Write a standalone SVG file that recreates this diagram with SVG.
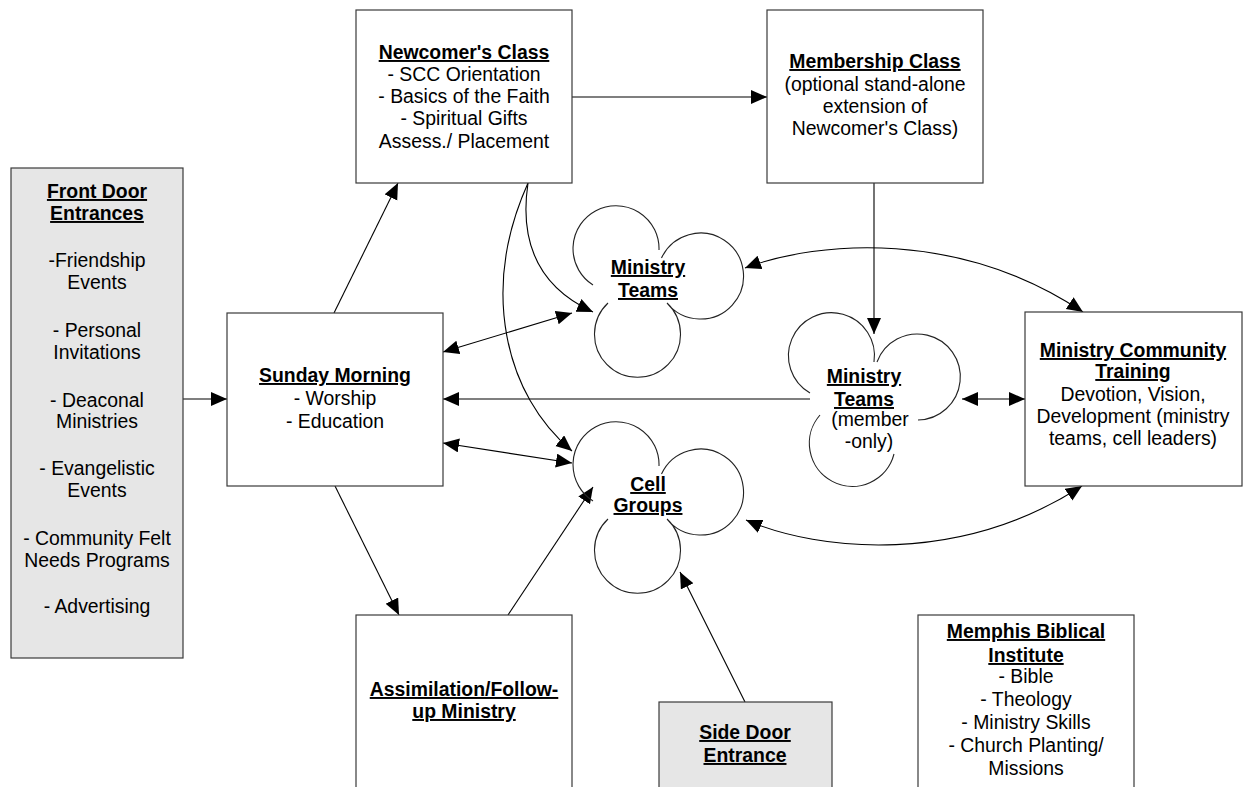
<svg xmlns="http://www.w3.org/2000/svg" width="1244" height="787" viewBox="0 0 1244 787">
<style>
.box{fill:#fff;stroke:#3a3a3a;stroke-width:1.2}
.gray{fill:#e6e6e6}
.t{font-family:"Liberation Sans",Arial,Helvetica,sans-serif;font-size:19.4px;fill:#000;text-anchor:middle}
.b{font-weight:bold;text-decoration:underline}
.ln{fill:none;stroke:#000;stroke-width:1.1}
.cl{fill:none;stroke:#222;stroke-width:1.1}
</style>
<defs>
<marker id="ah" markerUnits="userSpaceOnUse" markerWidth="17" markerHeight="15" refX="16" refY="7" orient="auto-start-reverse" viewBox="0 0 17 15">
<path d="M0,0 L16,7 L0,14 z" fill="#000"/>
</marker>
<path id="clover" d="M593,285 A43,43 0 1 1 659,250 M661.5,258 A43,43 0 1 1 667,303 M608,303 A43,43 0 1 0 667,303"/>
</defs>

<g id="connectors">
<path class="ln" d="M183,399 L227,399" marker-end="url(#ah)"/>
<path class="ln" d="M334,313 L398,183" marker-end="url(#ah)"/>
<path class="ln" d="M572,97 L767,97" marker-end="url(#ah)"/>
<path class="ln" d="M874,183 L874,334" marker-end="url(#ah)"/>
<path class="ln" d="M528,183 C518,250 545,290 593,312" marker-end="url(#ah)"/>
<path class="ln" d="M528,183 C480,290 505,395 572,451" marker-end="url(#ah)"/>
<path class="ln" d="M443,352 L572,313" marker-start="url(#ah)" marker-end="url(#ah)"/>
<path class="ln" d="M810,399 L443,399" marker-end="url(#ah)"/>
<path class="ln" d="M443,443 L572,463" marker-start="url(#ah)" marker-end="url(#ah)"/>
<path class="ln" d="M335,486 L399,615" marker-end="url(#ah)"/>
<path class="ln" d="M508,615 L593,487" marker-end="url(#ah)"/>
<path class="ln" d="M745,702 L680,572" marker-end="url(#ah)"/>
<path class="ln" d="M745,268 C820,240 960,230 1083,312" marker-start="url(#ah)" marker-end="url(#ah)"/>
<path class="ln" d="M962,399 L1025,399" marker-start="url(#ah)" marker-end="url(#ah)"/>
<path class="ln" d="M746,520 C820,552 960,565 1082,486" marker-start="url(#ah)" marker-end="url(#ah)"/>
</g>

<g id="front-door">
<rect class="box gray" x="11" y="168" width="172" height="490"/>
<text class="t b" x="97" y="198">Front Door</text>
<text class="t b" x="97" y="220">Entrances</text>
<text class="t" x="97" y="267">-Friendship</text>
<text class="t" x="97" y="289">Events</text>
<text class="t" x="97" y="337">- Personal</text>
<text class="t" x="97" y="359">Invitations</text>
<text class="t" x="97" y="407">- Deaconal</text>
<text class="t" x="97" y="428">Ministries</text>
<text class="t" x="97" y="475">- Evangelistic</text>
<text class="t" x="97" y="497">Events</text>
<text class="t" x="97" y="545">- Community Felt</text>
<text class="t" x="97" y="567">Needs Programs</text>
<text class="t" x="97" y="613">- Advertising</text>
</g>

<g id="newcomers-class">
<rect class="box" x="356" y="10" width="216" height="173"/>
<text class="t b" x="464" y="59">Newcomer's Class</text>
<text class="t" x="464" y="81">- SCC Orientation</text>
<text class="t" x="464" y="103">- Basics of the Faith</text>
<text class="t" x="464" y="125">- Spiritual Gifts</text>
<text class="t" x="464" y="148">Assess./ Placement</text>
</g>

<g id="membership-class">
<rect class="box" x="767" y="10" width="216" height="173"/>
<text class="t b" x="875" y="68">Membership Class</text>
<text class="t" x="875" y="91">(optional stand-alone</text>
<text class="t" x="875" y="113">extension of</text>
<text class="t" x="875" y="135">Newcomer's Class)</text>
</g>

<g id="sunday-morning">
<rect class="box" x="227" y="313" width="216" height="173"/>
<text class="t b" x="335" y="382">Sunday Morning</text>
<text class="t" x="335" y="405">- Worship</text>
<text class="t" x="335" y="428">- Education</text>
</g>

<g id="ministry-teams">
<use href="#clover" class="cl"/>
<text class="t b" x="648" y="274">Ministry</text>
<text class="t b" x="648" y="297">Teams</text>
</g>

<g id="ministry-teams-member">
<path class="cl" d="M810,393 A43,43 0 1 1 874,362 M877,362 A43,43 0 1 1 918,420 M820,415 A43,43 0 1 0 894,454"/>
<text class="t b" x="864" y="383">Ministry</text>
<text class="t b" x="864" y="406">Teams</text>
<text class="t" x="870" y="426">(member</text>
<text class="t" x="869" y="448">-only)</text>
</g>

<g id="cell-groups">
<use href="#clover" class="cl" transform="translate(0,216)"/>
<text class="t b" x="648" y="491">Cell</text>
<text class="t b" x="648" y="512">Groups</text>
</g>

<g id="ministry-community-training">
<rect class="box" x="1025" y="312" width="217" height="174"/>
<text class="t b" x="1133" y="357">Ministry Community</text>
<text class="t b" x="1133" y="378">Training</text>
<text class="t" x="1133" y="401">Devotion, Vision,</text>
<text class="t" x="1133" y="423">Development (ministry</text>
<text class="t" x="1133" y="445">teams, cell leaders)</text>
</g>

<g id="assimilation">
<rect class="box" x="356" y="615" width="216" height="185"/>
<text class="t b" x="464" y="696">Assimilation/Follow-</text>
<text class="t b" x="464" y="718">up Ministry</text>
</g>

<g id="side-door">
<rect class="box gray" x="659" y="702" width="173" height="100"/>
<text class="t b" x="745" y="739">Side Door</text>
<text class="t b" x="745" y="762">Entrance</text>
</g>

<g id="memphis-biblical-institute">
<rect class="box" x="918" y="615" width="216" height="185"/>
<text class="t b" x="1026" y="638">Memphis Biblical</text>
<text class="t b" x="1026" y="662">Institute</text>
<text class="t" x="1026" y="683">- Bible</text>
<text class="t" x="1026" y="706">- Theology</text>
<text class="t" x="1026" y="729">- Ministry Skills</text>
<text class="t" x="1026" y="752">- Church Planting/</text>
<text class="t" x="1026" y="775">Missions</text>
</g>
</svg>
